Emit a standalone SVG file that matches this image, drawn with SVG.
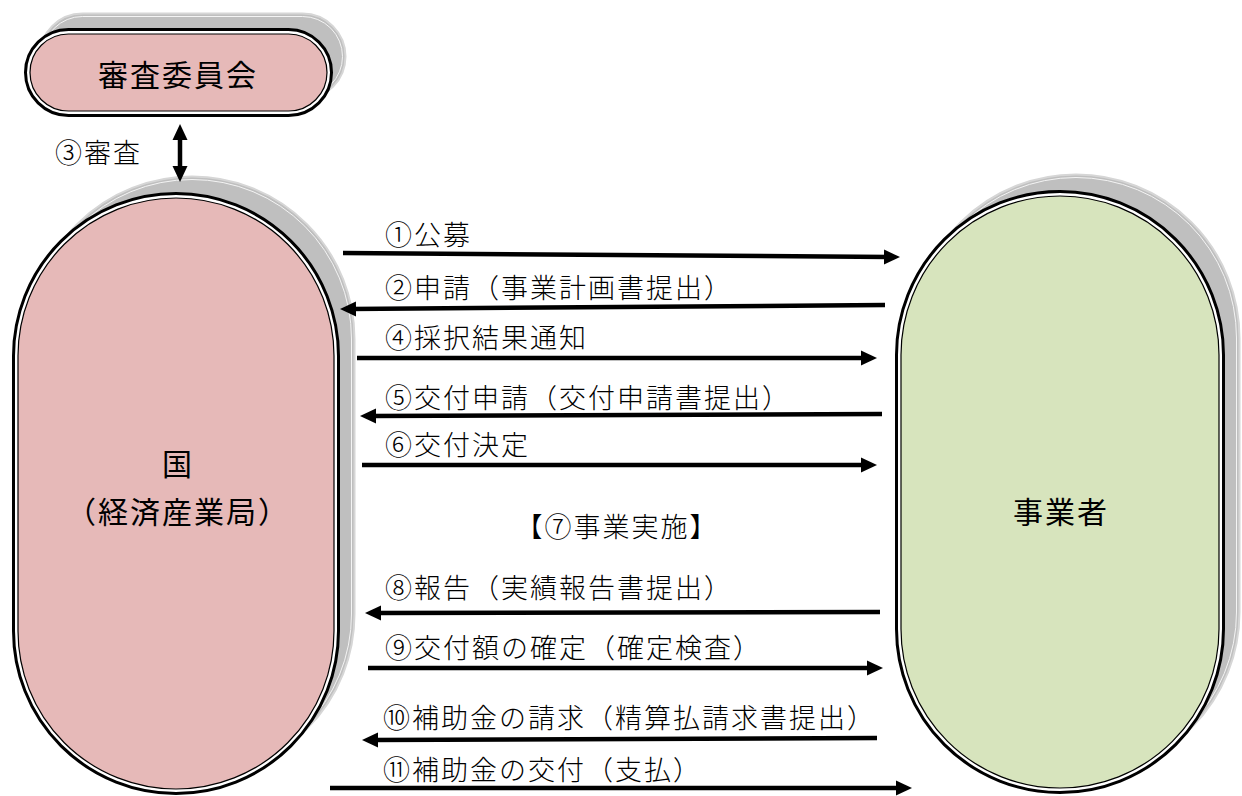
<svg xmlns="http://www.w3.org/2000/svg" width="1242" height="796" viewBox="0 0 1242 796">
<defs>
<style>
.sh{fill:#bfbfbf;stroke:#d6d6d6;stroke-width:2}
.shl{fill:none;stroke:#f4f4f4;stroke-width:1}
.outer{fill:#ffffff;stroke:#000000;stroke-width:3}
.pink{fill:#e6b9b8;stroke:#000000;stroke-width:1.2}
.green{fill:#d7e4bd;stroke:#000000;stroke-width:1.2}
text{font-family:"Noto Sans CJK JP","Noto Sans CJK SC",sans-serif;fill:#000000}
.node{font-size:30px;letter-spacing:2px;text-anchor:middle}
.lbl{font-size:27px;letter-spacing:2px;font-weight:300}
.arr{stroke:#000000;stroke-width:4.5;fill:none;marker-end:url(#ah)}
.arr2{stroke:#000000;stroke-width:4.5;fill:none;marker-start:url(#ah);marker-end:url(#ah)}
</style>
<marker id="ah" markerUnits="userSpaceOnUse" markerWidth="16" markerHeight="16" viewBox="0 0 16 16" refX="6" refY="8" orient="auto-start-reverse">
<path d="M0,0.5 L16,8 L0,15.5 z" fill="#000000"/>
</marker>
</defs>
<rect width="1242" height="796" fill="#ffffff"/>

<g id="node-committee">
<rect class="sh" x="39.5" y="13.5" width="306" height="86" rx="43"/>
<rect class="shl" x="42.5" y="16.5" width="300" height="80" rx="40"/>
<rect class="outer" x="25.5" y="29.5" width="306" height="86" rx="43"/>
<rect class="pink" x="30" y="34" width="297" height="77" rx="38.5"/>
<text class="node" x="178" y="86">審査委員会</text>
</g>

<g id="node-kuni">
<rect class="sh" x="29.5" y="176.5" width="325" height="600" rx="162.5"/>
<rect class="shl" x="32.5" y="179.5" width="319" height="594" rx="159.5"/>
<rect class="outer" x="13.5" y="193.5" width="325" height="600" rx="162.5"/>
<rect class="pink" x="18" y="198" width="316" height="591" rx="158"/>
<text class="node" x="178" y="475">国</text>
<text class="node" x="178" y="523">（経済産業局）</text>
</g>

<g id="node-jigyosha">
<rect class="sh" x="912.5" y="174.5" width="327" height="601" rx="163.5"/>
<rect class="shl" x="915.5" y="177.5" width="321" height="595" rx="160.5"/>
<rect class="outer" x="896.5" y="191.5" width="327" height="601" rx="163.5"/>
<rect class="green" x="901" y="196" width="318" height="592" rx="159"/>
<text class="node" x="1061" y="523">事業者</text>
</g>

<g id="connectors">
<path class="arr2" d="M180,134 L180,172"/>
<path class="arr" d="M343,253 L890,257"/>
<path class="arr" d="M885,305 L350,309"/>
<path class="arr" d="M357,358 L867,358"/>
<path class="arr" d="M882,414 L370,416"/>
<path class="arr" d="M362,465 L867,465"/>
<path class="arr" d="M880,612 L375,613"/>
<path class="arr" d="M368,668 L873,668"/>
<path class="arr" d="M877,738 L372,740"/>
<path class="arr" d="M330,788 L902,788"/>
</g>

<g id="labels">
<text class="lbl" x="55" y="163">③審査</text>
<text class="lbl" x="385" y="245">①公募</text>
<text class="lbl" x="385" y="298">②申請（事業計画書提出）</text>
<text class="lbl" x="385" y="348">④採択結果通知</text>
<text class="lbl" x="385" y="408">⑤交付申請（交付申請書提出）</text>
<text class="lbl" x="385" y="455">⑥交付決定</text>
<text class="lbl" x="617" y="537" text-anchor="middle">【⑦事業実施】</text>
<text class="lbl" x="385" y="598">⑧報告（実績報告書提出）</text>
<text class="lbl" x="385" y="658">⑨交付額の確定（確定検査）</text>
<text class="lbl" x="383" y="728">⑩補助金の請求（精算払請求書提出）</text>
<text class="lbl" x="383" y="780">⑪補助金の交付（支払）</text>
</g>
</svg>
